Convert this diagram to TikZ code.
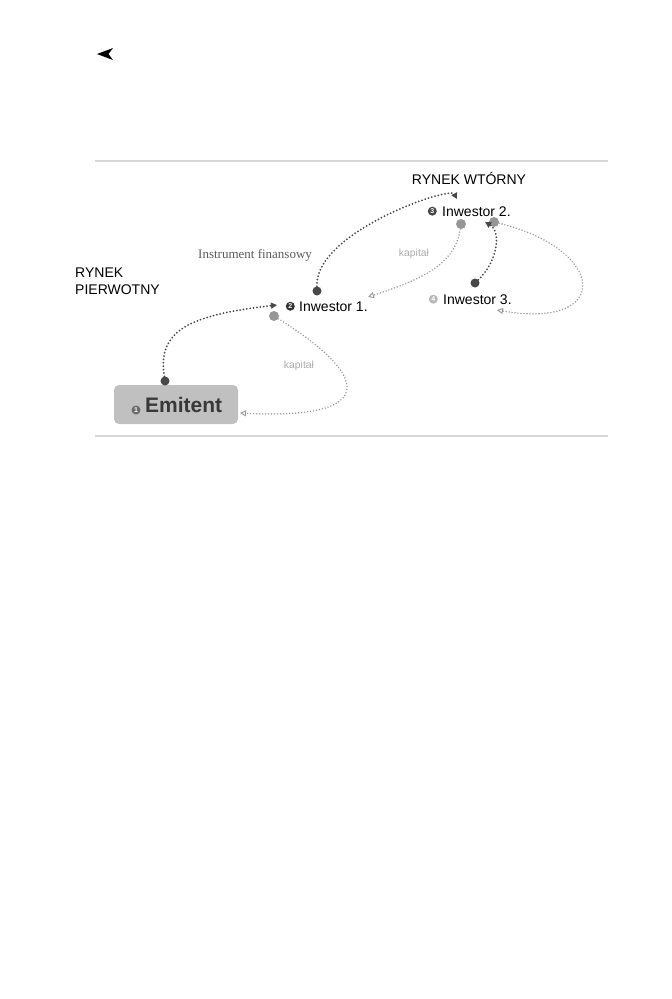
\documentclass[tikz,border=0pt]{standalone}
\usepackage{fontspec}
\setmainfont{Liberation Sans}
\newfontfamily\serifa{Liberation Serif}
\usetikzlibrary{arrows.meta, positioning}
\definecolor{darkdot}{RGB}{72,72,72}
\definecolor{lightdot}{RGB}{150,150,150}
\definecolor{lightline}{RGB}{150,150,150}
\definecolor{notegray}{RGB}{170,170,170}
\definecolor{boxgray}{RGB}{192,192,192}
\definecolor{rulegray}{RGB}{215,215,215}
\tikzset{dot/.style = {shape = circle, fill = darkdot, inner sep = 0pt, minimum size = 9pt}}
\tikzset{pale/.style = {dot, fill = lightdot, minimum size = 10pt}}
\tikzset{badge/.style = {shape = circle, fill = #1, text = white, inner sep = 0pt, minimum size = 9pt, font = \fontsize{7}{7}\selectfont\bfseries}}
\tikzset{investor/.style = {anchor = base west, inner sep = 0pt, font = \fontsize{14}{16}\selectfont}}
\tikzset{flow/.style = {draw = darkdot, line width = 2pt, dash pattern = on 0pt off 3.4pt, line cap = round, -{Triangle[length = 6pt, width = 6pt]}}}
\tikzset{cash/.style = {draw = lightline, line width = 1.6pt, dash pattern = on 0pt off 3pt, line cap = round, -{Triangle[open, length = 6pt, width = 6pt, line width = 0.9pt]}}}
\tikzset{note/.style = {anchor = base, inner sep = 0pt, text = notegray, font = \fontsize{10.4}{12}\selectfont}}

\begin{document}
\begin{tikzpicture}[x = 1pt, y = -1pt]
	\useasboundingbox (0, 0) rectangle (672, 999);
	\fill (97, 54) -- (113, 48) -- (108.5, 54) -- (113, 60) -- cycle;
	\draw[rulegray, line width = 1.5pt] (95, 161) -- (608, 161);
	\draw[rulegray, line width = 1.5pt] (95, 436) -- (608, 436);

	\node[anchor = base, inner sep = 0pt, font = \fontsize{14}{16}\selectfont] (wtorny) at (469, 184) {RYNEK WTÓRNY};
	\node[anchor = north west, inner sep = 0pt, align = left, font = \fontsize{14}{17}\selectfont] (pierwotny) at (75, 268) {RYNEK\\PIERWOTNY};
	\node[anchor = base west, inner sep = 0pt, text = darkdot!90, font = \serifa\fontsize{13}{15}\selectfont] (instr) at (198, 258) {Instrument finansowy};
	\node[note] (kap1) at (414, 256) {kapitał};
	\node[note] (kap2) at (299, 368) {kapitał};

	\node[shape = rectangle, rounded corners = 5pt, fill = boxgray, minimum width = 124pt, minimum height = 39pt] (emit) at (176, 404.5) {};
	\node[anchor = base west, inner sep = 0pt, text = black!78, font = \fontsize{21}{24}\selectfont\bfseries] (emtxt) at (145, 412.5) {Emitent};
	\node[badge = black!58] (n1) at (136, 410) {1};

	\node[investor] (inv1) at (299, 311) {Inwestor 1.};
	\node[investor] (inv2) at (442, 216) {Inwestor 2.};
	\node[investor] (inv3) at (443, 304) {Inwestor 3.};
	\node[badge = black!80, left = 4pt of inv1] (n2) {2};
	\node[badge = black!72, left = 5pt of inv2] (n3) {3};
	\node[badge = black!28, left = 5pt of inv3] (n4) {4};

	\node[dot] (emdot) at (165, 381) {};
	\node[pale] (i1low) at (274, 316) {};
	\node[dot] (i1top) at (317, 291) {};
	\node[pale] (i2low) at (461, 224) {};
	\node[pale] (i2right) at (494, 222) {};
	\node[dot] (i3top) at (475, 283) {};
	\coordinate (i1in) at (277, 305);
	\coordinate (emright) at (240, 413);
	\coordinate (i2in) at (457, 199);
	\coordinate (i1right) at (368, 297);
	\coordinate (i2arr) at (485, 222);
	\coordinate (i3right) at (497, 310);

	\draw[flow] (emdot) .. controls (157, 330) and (190, 315) .. (i1in);
	\draw[cash] (i1low) .. controls (370, 376) and (380, 420) .. (emright);
	\draw[flow] (i1top) .. controls (315, 232) and (450, 186) .. (i2in);
	\draw[cash] (i2low) .. controls (455, 265) and (420, 280) .. (i1right);
	\draw[flow] (i3top) .. controls (497, 262) and (502, 232) .. (i2arr);
	\draw[cash] (i2right) .. controls (608, 250) and (612, 330) .. (i3right);
\end{tikzpicture}
\end{document}
